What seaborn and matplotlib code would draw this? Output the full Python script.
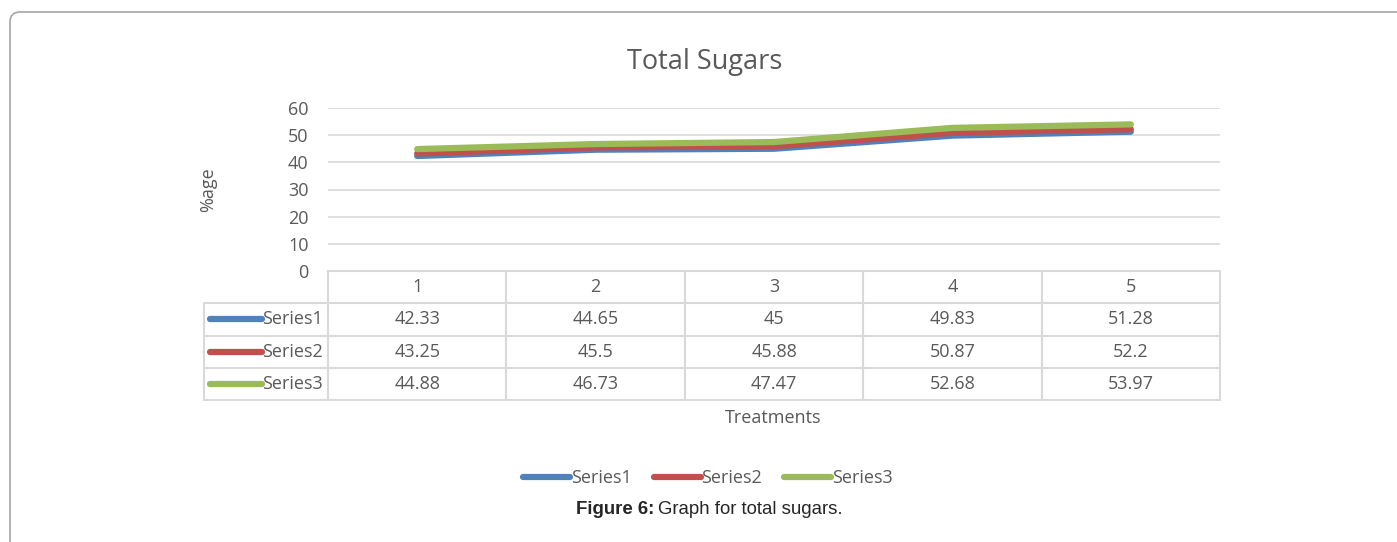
import pandas as pd
import matplotlib.pyplot as plt
import seaborn as sns
from matplotlib.patches import FancyBboxPatch
from matplotlib.lines import Line2D

# chart data
treatments = ['1', '2', '3', '4', '5']
series_names = ['Series1', 'Series2', 'Series3']
series1 = [42.33, 44.65, 45, 49.83, 51.28]
series2 = [43.25, 45.5, 45.88, 50.87, 52.2]
series3 = [44.88, 46.73, 47.47, 52.68, 53.97]
colors = ['#4F81BD', '#C0504D', '#9BBB59']
yticks = [0, 10, 20, 30, 40, 50, 60]

sns.set_style('white')
plt.rcParams['font.family'] = ['Open Sans', 'DejaVu Sans']
txt = '#595959'
grid = '#D9D9D9'

W, H = 1397, 542
fig = plt.figure(figsize=(W / 100, H / 100), dpi=100)

def fx(px):
    return px / W

def fy(py):
    return 1 - py / H

# long-form table for seaborn
values = [series1, series2, series3]
df = pd.DataFrame({
    'pos': list(range(len(treatments))) * 3,
    'value': series1 + series2 + series3,
    'series': [s for s in series_names for _ in treatments],
})

# plot area
ax = fig.add_axes([fx(328), fy(271), fx(1220) - fx(328), (271 - 108) / H])
sns.lineplot(data=df, x='pos', y='value', hue='series', palette=colors,
             linewidth=4.5, legend=False, ax=ax, solid_capstyle='round')
ax.set_xlim(-0.5, len(treatments) - 0.5)
ax.set_ylim(0, 60)
ax.set_yticks(yticks)
ax.set_xticks([])
ax.set_xlabel('')
ax.set_ylabel('')
for y in yticks[1:]:
    ax.axhline(y, color=grid, lw=1.2, zorder=0)
for s in ax.spines.values():
    s.set_visible(False)
ax.tick_params(axis='y', length=0, pad=14, labelsize=13, labelcolor=txt)

# data table under the plot
colw = (1220 - 328) / len(treatments)
lab_w = (328 - 204) / colw
x0 = -0.5 - lab_w
x1 = len(treatments) - 0.5
tax = fig.add_axes([fx(204), fy(400), fx(1220) - fx(204), (400 - 271) / H])
tax.set_xlim(x0, x1)
tax.set_ylim(4, 0)
tax.axis('off')
lk = dict(color=grid, lw=1.5, clip_on=False)
tax.plot([-0.5, x1], [0, 0], **lk)
for r in range(1, 5):
    tax.plot([x0, x1], [r, r], **lk)
for c in range(len(treatments) + 1):
    tax.plot([-0.5 + c, -0.5 + c], [0, 4], **lk)
tax.plot([x0, x0], [1, 4], **lk)

for i, t in enumerate(treatments):
    tax.text(i, 0.5, t, ha='center', va='center', fontsize=13, color=txt)
for r, (name, vals, col) in enumerate(zip(series_names, values, colors)):
    yy = r + 1.5
    for i, v in enumerate(vals):
        tax.text(i, yy, f'{v:g}', ha='center', va='center', fontsize=13, color=txt)
    kx0 = x0 + (210 - 204) / colw
    kx1 = x0 + (262 - 204) / colw
    tax.plot([kx0, kx1], [yy, yy], color=col, lw=4.5, solid_capstyle='round', clip_on=False)
    tax.text(x0 + (262 - 204) / colw, yy, name, ha='left', va='center', fontsize=13, color=txt)

# titles and labels
fig.text(fx(705), fy(62), 'Total Sugars', ha='center', va='center', fontsize=19.5, color=txt)
fig.text(fx(208), fy(190), '%age', ha='center', va='center', rotation=90, fontsize=13, color=txt)
fig.text(fx(773), fy(418), 'Treatments', ha='center', va='center', fontsize=13, color=txt)

handles = [Line2D([], [], color=c, lw=4.5, solid_capstyle='round') for c in colors]
leg = fig.legend(handles, series_names, loc='center', bbox_to_anchor=(fx(708), fy(478)),
                 ncol=3, frameon=False, handlelength=2.6, handletextpad=0.05,
                 columnspacing=1.2, fontsize=13)
for t in leg.get_texts():
    t.set_color(txt)

# caption
fig.text(fx(654), fy(509), 'Figure 6:', ha='right', va='center', fontsize=13.4,
         fontweight='bold', family=['Liberation Sans', 'DejaVu Sans'])
fig.text(fx(658), fy(509), 'Graph for total sugars.', ha='left', va='center', fontsize=13.4,
         family=['Liberation Sans', 'DejaVu Sans'])

# outer frame
frame = FancyBboxPatch((0.10, -0.5), 15.0, 5.30 + 0.5, boxstyle='round,pad=0,rounding_size=0.1',
                       transform=fig.dpi_scale_trans, fill=False, edgecolor='#A6A6A6', lw=1.2)
fig.add_artist(frame)

fig.savefig('out.png', dpi=100)
